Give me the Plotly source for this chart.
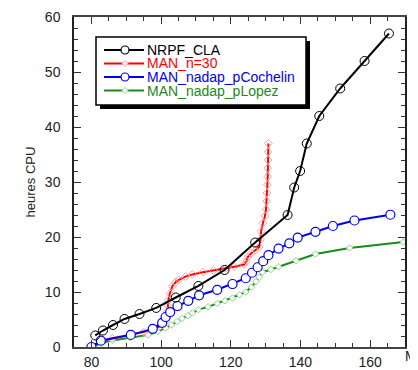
import plotly.graph_objects as go

# NRPF_CLA
cla_x = [81.1, 83.3, 86.2, 89.5, 93.8, 98.6, 104.2, 110.7, 118.2, 127.0, 136.3, 138.2, 139.9, 141.8, 145.4, 151.4, 158.4, 165.4]
cla_y = [2.1, 3.0, 4.0, 5.1, 6.0, 7.1, 9.0, 11.1, 14.0, 19.0, 24.0, 29.0, 32.0, 37.0, 42.0, 47.0, 52.0, 57.0]

# MAN_n=30
n30_x = [80, 82.5, 86, 91.5, 95, 97.5, 99.5, 100.5, 101.3, 101.7, 101.8, 101.9, 102.1, 102.5, 103.2, 104.2, 105.1,
         107, 109, 112, 115, 118.6, 121, 123.8, 124.5, 124.8, 125.8, 127, 128.2, 128.5, 128.7, 129.2, 129.8, 130.1,
         130.3, 130.4, 130.5, 130.6, 130.6, 130.7, 130.7, 130.8]
n30_y = [0, 1.1, 1.6, 2.2, 2.7, 3.2, 3.7, 4.2, 4.6, 5.5, 6.5, 7.5, 8.5, 9.7, 11.0, 11.8, 12.2,
         12.8, 13.2, 13.6, 13.9, 14.3, 14.6, 15.0, 15.6, 16.3, 17.0, 17.6, 18.2, 19.5, 21, 22.5, 23.8, 25,
         26.5, 28, 29.5, 31, 32.5, 34, 35.5, 37]

# MAN_nadap_pCochelin
coch_x = [80, 82.7, 91.3, 97.6, 100.3, 101.3, 102.6, 104.7, 107.8, 110.9, 116.1, 120.5, 124.3, 126.1, 127.7,
          129.3, 130.8, 133.7, 136.8, 139.2, 144.3, 149.3, 155.5, 165.8]
coch_y = [0, 1.15, 2.2, 3.3, 4.4, 5.45, 6.35, 7.45, 8.4, 9.4, 10.4, 11.45, 12.5, 13.5, 14.5,
          15.6, 16.7, 17.9, 18.85, 19.9, 20.95, 22.0, 23.0, 24.05]

# MAN_nadap_pLopez
lop_x = [80, 83, 86, 91, 96.3, 99, 101.3, 103, 104.6, 106, 107.7, 109, 110.7, 113.5, 116.1, 118.3, 120.5,
         122.5, 124.3, 125.9, 127.2, 128.2, 129.1, 131.5, 133.7, 138.7, 144.3, 154.1, 169.5]
lop_y = [0, 0.7, 1.2, 1.7, 2.2, 2.8, 3.45, 4.0, 4.65, 5.2, 5.7, 6.2, 6.8, 7.3, 7.9, 8.4, 8.9,
         9.5, 10.0, 10.9, 11.9, 12.7, 13.6, 14.1, 14.6, 15.7, 16.9, 18.0, 19.1]

series_names = ["NRPF_CLA", "MAN_n=30", "MAN_nadap_pCochelin", "MAN_nadap_pLopez"]
series_colors = ["black", "#ff0000", "#0000ee", "#1a8a1a"]

fig = go.Figure()
fig.add_trace(go.Scatter(
    x=lop_x, y=lop_y, mode="lines+markers", name=series_names[3], showlegend=False,
    line=dict(color=series_colors[3], width=2),
    marker=dict(symbol="diamond", size=5, color="white", line=dict(color="#8fcf8f", width=1))))
fig.add_trace(go.Scatter(
    x=n30_x, y=n30_y, mode="lines+markers", name=series_names[1], showlegend=False,
    line=dict(color=series_colors[1], width=2),
    marker=dict(symbol="diamond-open", size=6, color="#ffa0a0", line=dict(width=1))))
fig.add_trace(go.Scatter(
    x=coch_x, y=coch_y, mode="lines+markers", name=series_names[2], showlegend=False,
    line=dict(color=series_colors[2], width=2),
    marker=dict(symbol="circle", size=9, color="white", line=dict(color=series_colors[2], width=1.2))))
fig.add_trace(go.Scatter(
    x=cla_x, y=cla_y, mode="lines+markers", name=series_names[0], showlegend=False,
    line=dict(color=series_colors[0], width=2),
    marker=dict(symbol="circle-open", size=9, color="black", line=dict(width=1))))

# The page body has an 8px default margin: size the figure so it fills the window exactly.
OFF = 8
W, H = 418 - OFF, 370 - OFF
L, R, T, B = 74 - OFF, 13, 17 - OFF, 23
pw, ph = W - L - R, H - T - B

def px_x(p):  # p: page pixel
    return (p - OFF - L) / pw

def px_y(p):
    return (H - B - (p - OFF)) / ph

# Hand-drawn legend box (with drop shadow) to match the original's compact layout
bx0, by0, bx1, by1 = 96, 37, 306, 105
shapes = [
    dict(type="rect", xref="paper", yref="paper", x0=px_x(bx0 + 4), x1=px_x(bx1 + 4),
         y0=px_y(by0 + 4), y1=px_y(by1 + 4), fillcolor="black", line=dict(width=0), layer="above"),
    dict(type="rect", xref="paper", yref="paper", x0=px_x(bx0), x1=px_x(bx1),
         y0=px_y(by0), y1=px_y(by1), fillcolor="white", line=dict(color="black", width=1.5), layer="above"),
]
rows = [50, 63.5, 77, 90.5]
marker_kind = ["circle", "diamond", "circle", "diamond"]
marker_line = ["black", "#ffa0a0", "#0000ee", "#9fd69f"]
for i, name in enumerate(series_names):
    yy = rows[i]
    shapes.append(dict(type="line", xref="paper", yref="paper", x0=px_x(104), x1=px_x(144),
                       y0=px_y(yy), y1=px_y(yy), line=dict(color=series_colors[i], width=2), layer="above"))
    if marker_kind[i] == "circle":
        r = 4
        shapes.append(dict(type="circle", xref="paper", yref="paper", x0=px_x(125 - r), x1=px_x(125 + r),
                           y0=px_y(yy - r), y1=px_y(yy + r), fillcolor="white",
                           line=dict(color=marker_line[i], width=1.2), layer="above"))
    else:
        d = 3
        path = "M {} {} L {} {} L {} {} L {} {} Z".format(
            px_x(125 - d), px_y(yy), px_x(125), px_y(yy - d), px_x(125 + d), px_y(yy), px_x(125), px_y(yy + d))
        shapes.append(dict(type="path", xref="paper", yref="paper", path=path, fillcolor="white",
                           line=dict(color=marker_line[i], width=1), layer="above"))
    fig.add_annotation(text=name, xref="paper", yref="paper", x=px_x(146), y=px_y(yy),
                       xanchor="left", yanchor="middle", showarrow=False, borderpad=0,
                       font=dict(size=14, color=series_colors[i]))

fig.update_layout(
    width=W, height=H,
    margin=dict(l=L, r=R, t=T, b=B, pad=0, autoexpand=False),
    paper_bgcolor="white", plot_bgcolor="white",
    font=dict(family="Liberation Sans, Arial, sans-serif", size=14, color="#222"),
    shapes=shapes,
    xaxis=dict(range=[75, 170], tickvals=[80, 100, 120, 140, 160], automargin=False,
               ticks="inside", ticklen=7, tickwidth=1, tickcolor="#333",
               minor=dict(dtick=5, tick0=75, ticks="inside", ticklen=4, tickcolor="#333"),
               showline=True, linecolor="#444", linewidth=1.5, mirror="allticks",
               showgrid=False, zeroline=False, ticklabelstandoff=1,
               tickfont=dict(size=14, color="#222")),
    yaxis=dict(range=[0, 60], tickvals=[0, 10, 20, 30, 40, 50, 60], automargin=False,
               ticks="inside", ticklen=7, tickwidth=1, tickcolor="#333",
               minor=dict(dtick=2, tick0=0, ticks="inside", ticklen=4, tickcolor="#333"),
               showline=True, linecolor="#222", linewidth=1.5, mirror="allticks",
               showgrid=False, zeroline=False, ticklabelstandoff=9,
               tickfont=dict(size=14, color="#222")),
)
fig.update_yaxes(title=dict(text="heures CPU", font=dict(size=13, color="#222"), standoff=6))
fig.add_annotation(text="M", xref="paper", yref="paper", x=px_x(404), y=px_y(356),
                   xanchor="left", yanchor="middle", showarrow=False, borderpad=0,
                   font=dict(size=14, color="#222"))
fig.write_html("out.html")
